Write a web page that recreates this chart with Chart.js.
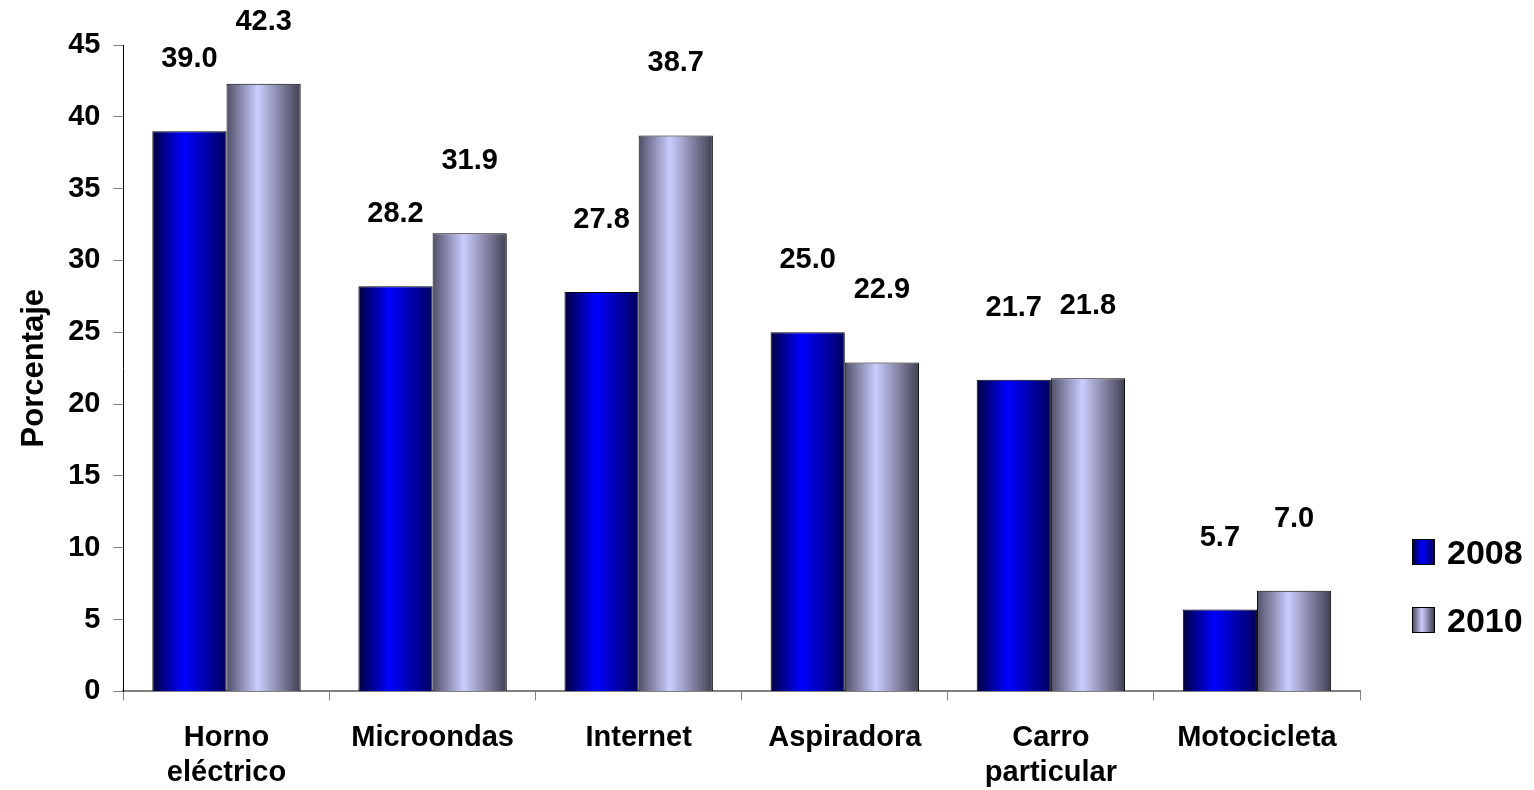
<!DOCTYPE html>
<html>
<head>
<meta charset="utf-8">
<script src="https://cdn.jsdelivr.net/npm/chart.js@4/dist/chart.umd.min.js"></script>
<style>
  body { margin: 0; background: #fff; }
  #wrap { position: relative; width: 1534px; height: 790px; }
  #legend { position: absolute; left: 1412px; top: 518px; font: bold 34px "Liberation Sans", Arial, sans-serif; }
  #legend div { display: flex; align-items: center; height: 68px; }
  #legend span.box { display: inline-block; width: 21px; height: 24px; border: 1px solid #000; margin-right: 12px; }
</style>
</head>
<body>
<div id="wrap">
  <canvas id="chart" width="1534" height="790"></canvas>
  <div id="legend">
    <div><span class="box" style="background: linear-gradient(to right, #000040, #0000ff 42%, #000060)"></span>2008</div>
    <div><span class="box" style="background: linear-gradient(to right, #505068, #ccccff 42%, #404050)"></span>2010</div>
  </div>
</div>
<script>
const categories = [['Horno', 'eléctrico'], 'Microondas', 'Internet', 'Aspiradora', ['Carro', 'particular'], 'Motocicleta'];
const values2008 = [39.0, 28.2, 27.8, 25.0, 21.7, 5.7];
const values2010 = [42.3, 31.9, 38.7, 22.9, 21.8, 7.0];
const yTicks = [0, 5, 10, 15, 20, 25, 30, 35, 40, 45];

const FONT = '"Liberation Sans", Arial, sans-serif';

const gradients = [
  ['#000040', '#0000ff', '#000060'],
  ['#505068', '#ccccff', '#404050']
];

// paint each bar with a horizontal cylinder-like gradient
const barShade = {
  id: 'barShade',
  beforeDatasetsDraw(chart) {
    const ctx = chart.ctx;
    chart.data.datasets.forEach((ds, di) => {
      const meta = chart.getDatasetMeta(di);
      meta.data.forEach(bar => {
        const x0 = bar.x - bar.width / 2;
        const g = ctx.createLinearGradient(x0, 0, x0 + bar.width, 0);
        g.addColorStop(0, gradients[di][0]);
        g.addColorStop(0.42, gradients[di][1]);
        g.addColorStop(1, gradients[di][2]);
        bar.options.backgroundColor = g;
      });
    });
  }
};

// value labels floating above the bars
const valueLabels = {
  id: 'valueLabels',
  afterDatasetsDraw(chart) {
    const ctx = chart.ctx;
    ctx.save();
    ctx.font = 'bold 29px ' + FONT;
    ctx.fillStyle = '#000';
    ctx.textAlign = 'center';
    ctx.textBaseline = 'middle';
    chart.data.datasets.forEach((ds, di) => {
      chart.getDatasetMeta(di).data.forEach((bar, i) => {
        ctx.fillText(ds.data[i].toFixed(1), bar.x, Math.max(bar.y - 72, 22));
      });
    });
    ctx.restore();
  }
};

new Chart(document.getElementById('chart'), {
  type: 'bar',
  data: {
    labels: categories,
    datasets: [
      { label: '2008', data: values2008, backgroundColor: c => gradients[c.datasetIndex][1], borderColor: '#000', borderWidth: 1, borderSkipped: 'bottom' },
      { label: '2010', data: values2010, backgroundColor: c => gradients[c.datasetIndex][1], borderColor: '#000', borderWidth: 1, borderSkipped: 'bottom' }
    ]
  },
  options: {
    responsive: false,
    animation: false,
    layout: { padding: { left: 4, right: 174, top: 45, bottom: -20 } },
    datasets: { bar: { barPercentage: 1, categoryPercentage: 0.72 } },
    scales: {
      x: {
        grid: { offset: true, drawOnChartArea: false, tickLength: 9, color: '#808080' },
        border: { color: '#808080', width: 2 },
        ticks: { color: '#000', font: { family: FONT, size: 29, weight: 'bold', lineHeight: 1.2 }, padding: 20, maxRotation: 0 }
      },
      y: {
        min: 0, max: 45,
        afterBuildTicks(axis) { axis.ticks = yTicks.map(v => ({ value: v })); },
        grid: { drawOnChartArea: false, tickLength: 10, color: '#808080' },
        border: { color: '#000', width: 1 },
        ticks: { color: '#000', font: { family: FONT, size: 29, weight: 'bold' }, padding: 13 },
        title: { display: true, text: 'Porcentaje', color: '#000', font: { family: FONT, size: 31, weight: 'bold' }, padding: { top: 12, bottom: 2 } }
      }
    },
    plugins: {
      legend: { display: false },
      tooltip: { enabled: false }
    }
  },
  plugins: [barShade, valueLabels]
});
</script>
</body>
</html>
